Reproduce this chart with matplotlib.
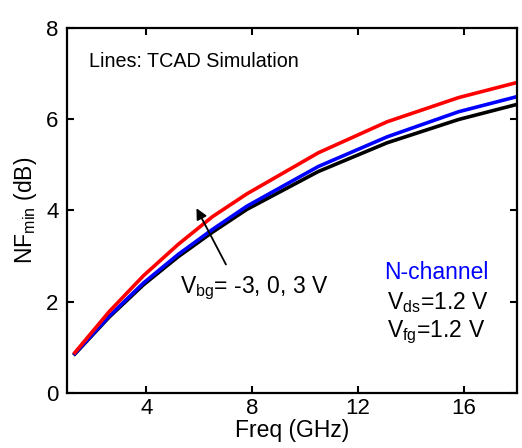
import numpy as np
import matplotlib
matplotlib.use("Agg")
import matplotlib.pyplot as plt

plt.rcParams['font.family'] = ['Liberation Sans', 'DejaVu Sans']
plt.rcParams['mathtext.fontset'] = 'custom'
plt.rcParams['mathtext.rm'] = 'Liberation Sans'
plt.rcParams['mathtext.it'] = 'Liberation Sans'

# TCAD simulation, NFmin vs frequency for three back-gate biases
freq = [1.3, 2.6, 3.9, 5.2, 6.5, 7.8, 10.5, 13.1, 15.8, 18.0]
nf_vbg_p3 = [0.88, 1.78, 2.57, 3.25, 3.86, 4.36, 5.26, 5.94, 6.47, 6.80]
nf_vbg_0 = [0.86, 1.68, 2.41, 3.03, 3.58, 4.09, 4.96, 5.61, 6.16, 6.49]
nf_vbg_m3 = [0.85, 1.66, 2.37, 2.98, 3.52, 4.02, 4.85, 5.48, 5.99, 6.32]

x_ticks = [4, 8, 12, 16]
y_ticks = [0, 2, 4, 6, 8]

fig = plt.figure(figsize=(5.22, 4.48), dpi=100)
ax = fig.add_axes([0.128, 0.123, 0.862, 0.815])

ax.plot(freq, nf_vbg_m3, color='black', lw=2.6)
ax.plot(freq, nf_vbg_0, color='#0000ff', lw=2.6)
ax.plot(freq, nf_vbg_p3, color='#ff0000', lw=2.6)

ax.set_xlim(1, 18)
ax.set_ylim(0, 8)
ax.set_xticks(x_ticks)
ax.set_yticks(y_ticks)
ax.tick_params(direction='in', top=True, right=True, length=5, width=1.5,
               labelsize=16)
ax.tick_params(axis='x', pad=4)
ax.tick_params(axis='y', pad=6)
for sp in ax.spines.values():
    sp.set_linewidth(1.6)

ax.set_xlabel('Freq (GHz)', fontsize=16.5, labelpad=0)
ax.set_ylabel(r'NF$_{\rm min}$ (dB)', fontsize=16.5, labelpad=5)

ax.text(1.83, 7.27, 'Lines: TCAD Simulation', fontsize=14.2, va='center')
ax.annotate('', xy=(5.85, 4.1), xytext=(7.06, 2.76),
            arrowprops=dict(arrowstyle='-|>', color='black', lw=1.3,
                            mutation_scale=16))
ax.text(5.28, 2.3, r'V$_{\rm bg}$= -3, 0, 3 V', fontsize=16.5, va='center')
ax.text(12.97, 2.63, 'N-channel', fontsize=16.5, color='#0000ff', va='center')
ax.text(13.1, 1.98, r'V$_{\rm ds}$=1.2 V', fontsize=16.5, va='center')
ax.text(13.1, 1.32, r'V$_{\rm fg}$=1.2 V', fontsize=16.5, va='center')

fig.savefig('out.png', dpi=100)
